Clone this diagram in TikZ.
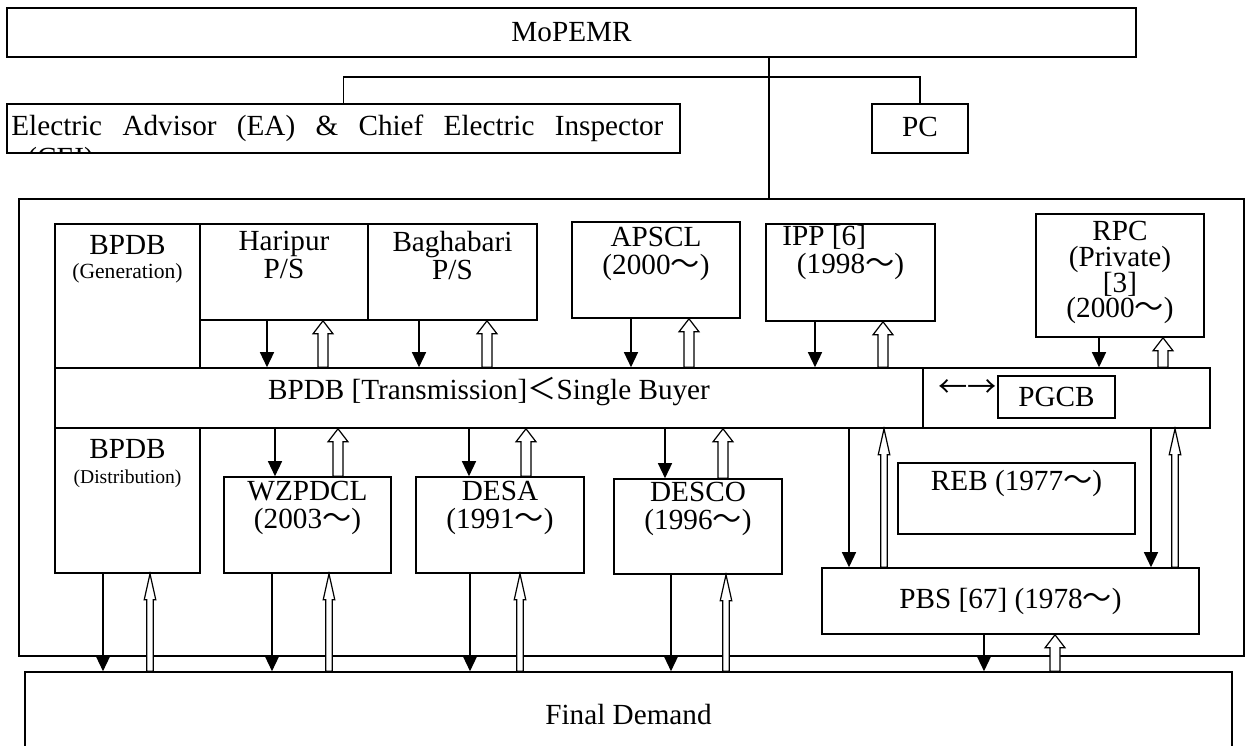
\documentclass[tikz,border=0pt]{standalone}
\usepackage{fontspec}
\setmainfont{Liberation Serif}
\newfontfamily\cjk{Noto Sans CJK JP}
\usetikzlibrary{arrows.meta,calc,fit,positioning}
\newcommand{\wave}{{\cjk ～}}
\newcommand{\subfont}{\fontsize{10.8}{12}\selectfont}
\newcommand{\tightlines}{\lineskiplimit=-20pt\relax}
\tikzset{
    box/.style={draw, line width=0.8pt, inner sep=0pt},
    txt/.style={anchor=north, inner sep=2.5pt, align=center},
    mid/.style={anchor=center, inner sep=0pt},
    dn/.style={line width=0.65pt, -{Triangle[width=7pt,length=7.5pt]}},
    hollow/.style args={#1/#2/#3}{fill=white, line width=0.6pt,
        to path={let \p1=(\tikztostart), \p2=(\tikztotarget) in
            (\x1-#1,\y1) -- (\x1-#1,\y2-#3) -- (\x1-#2,\y2-#3) -- (\x1,\y2)
            -- (\x1+#2,\y2-#3) -- (\x1+#1,\y2-#3) -- (\x1+#1,\y1) -- cycle}},
    fat/.style={hollow=2.5pt/5pt/6.5pt},
    slim/.style={hollow=1.6pt/2.9pt/13pt}
}
% solid arrow down at x=#1
\newcommand{\powerflow}[3]{\draw[dn] (#1,0 |- #2) -- (#1,0 |- #3);}
% hollow arrow up at x=#2
\newcommand{\moneyflow}[4]{\draw[#1] (#2,0 |- #3) to (#2,0 |- #4);}

\begin{document}
\begin{tikzpicture}[x=0.5pt, y=-0.5pt,
        font=\fontsize{14.6}{13.8}\selectfont\tightlines]
    \useasboundingbox (0,0) rectangle (1245,745);
    \clip (0,0) rectangle (1245,745);
    \node[box, fit={(7,8) (1136,57)}, label={[mid]center:MoPEMR}] (mop) {};
    \node[box, fit={(7,104) (680,153)}] (ea) {};
    \node[box, fit={(872,104) (968,153)}, label={[mid, yshift=1pt]center:PC}] (pc) {};
    \node[anchor=base west, inner sep=0pt] (eatext) at (11,135)
        {\makebox[326pt][s]{Electric Advisor (EA) \& Chief Electric Inspector}};
    \begin{scope}
        \clip (ea.north west) rectangle (ea.south east);
        \node[anchor=base west, inner sep=0pt] (eacut) at (27,167) {(CEI)};
    \end{scope}
    \coordinate (bus) at (769,77);
    \node[box, fit={(19,199) (1244,656)}] (sector) {};
    \draw[line width=0.8pt] (ea.north) |- (bus) -| (pc.north);
    \draw[line width=0.8pt] (mop.south -| bus) -- (sector.north -| bus);
    % generation
    \node[box, fit={(55,224) (200,368)},
        label={[txt, yshift=-3.5pt]north:BPDB\\[-1.8pt]{\subfont (Generation)}}] (gen) {};
    \node[box, fit={(200,224) (368,320)},
        label={[txt, yshift=-1.5pt]north:Haripur\\P/S}] (hari) {};
    \node[box, fit={(368,224) (537,320)},
        label={[txt, yshift=-1.5pt]north:Baghabari\\P/S}] (bagh) {};
    \node[box, fit={(572,222) (740,318)},
        label={[txt, yshift=-0.5pt]north:APSCL\\(2000\wave)}] (apscl) {};
    \node[box, fit={(766,224) (935,321)},
        label={[txt, yshift=1.5pt]north:IPP [6]\hspace*{1.8em}\\(1998\wave)}] (ipp) {};
    \node[box, fit={(1036,214) (1204,337)},
        label={[txt, yshift=-1.5pt]north:RPC\\[-1pt](Private)\\[-1pt]{}[3]\\[-1pt](2000\wave)}] (rpc) {};
    % transmission
    \node[box, fit={(55,368) (923,428)},
        label={[txt, yshift=-2.5pt]north:BPDB [Transmission]{\cjk ＜}Single Buyer}] (bar) {};
    \node[box, fit={(923,368) (1210,428)}] (bar2) {};
    \node[box, fit={(998,376) (1115,418)}, label={[mid]center:PGCB}] (pgcb) {};
    \node[left=0pt of pgcb, yshift=4pt, inner sep=0pt] (link) {{\cjk ←→}};
    % distribution
    \node[box, fit={(55,428) (200,573)},
        label={[txt, yshift=-3.5pt]north:BPDB\\[-1.3pt]{\fontsize{9.8}{11}\selectfont (Distribution)}}] (dist) {};
    \node[box, fit={(224,477) (391,573)},
        label={[txt]north:WZPDCL\\(2003\wave)}] (wz) {};
    \node[box, fit={(416,477) (584,573)},
        label={[txt]north:DESA\\(1991\wave)}] (desa) {};
    \node[box, fit={(614,479) (782,574)},
        label={[txt, yshift=0.5pt]north:DESCO\\(1996\wave)}] (desco) {};
    \node[box, fit={(898,463) (1135,534)},
        label={[txt, yshift=-1.5pt]north:REB (1977\wave)}] (reb) {};
    \node[box, fit={(822,568) (1199,634)}, label={[mid]center:PBS [67] (1978\wave)}] (pbs) {};
    \node[box, fit={(25,672) (1232,760)}, label={[mid, yshift=1pt]center:Final Demand}] (fd) {};
    % flows
    \powerflow{267}{hari.south}{bar.north}
    \moneyflow{fat}{323}{bar.north}{hari.south}
    \powerflow{419}{bagh.south}{bar.north}
    \moneyflow{fat}{487}{bar.north}{bagh.south}
    \powerflow{631}{apscl.south}{bar.north}
    \moneyflow{fat}{689}{bar.north}{apscl.south}
    \powerflow{815}{ipp.south}{bar.north}
    \moneyflow{fat}{883}{bar.north}{ipp.south}
    \powerflow{1099}{rpc.south}{bar2.north}
    \moneyflow{fat}{1163}{bar2.north}{rpc.south}
    \powerflow{275}{bar.south}{wz.north}
    \moneyflow{fat}{338}{wz.north}{bar.south}
    \powerflow{469}{bar.south}{desa.north}
    \moneyflow{fat}{526}{desa.north}{bar.south}
    \powerflow{665}{bar.south}{desco.north}
    \moneyflow{fat}{723}{desco.north}{bar.south}
    \powerflow{849}{bar.south}{pbs.north}
    \moneyflow{slim}{884}{pbs.north}{bar.south}
    \powerflow{1151}{bar2.south}{pbs.north}
    \moneyflow{slim}{1175}{pbs.north}{bar2.south}
    \powerflow{103}{dist.south}{fd.north}
    \moneyflow{slim}{150}{fd.north}{dist.south}
    \powerflow{272}{wz.south}{fd.north}
    \moneyflow{slim}{329}{fd.north}{wz.south}
    \powerflow{470}{desa.south}{fd.north}
    \moneyflow{slim}{520}{fd.north}{desa.south}
    \powerflow{671}{desco.south}{fd.north}
    \moneyflow{slim}{726}{fd.north}{desco.south}
    \powerflow{984}{pbs.south}{fd.north}
    \moneyflow{fat}{1055}{fd.north}{pbs.south}
\end{tikzpicture}
\end{document}
